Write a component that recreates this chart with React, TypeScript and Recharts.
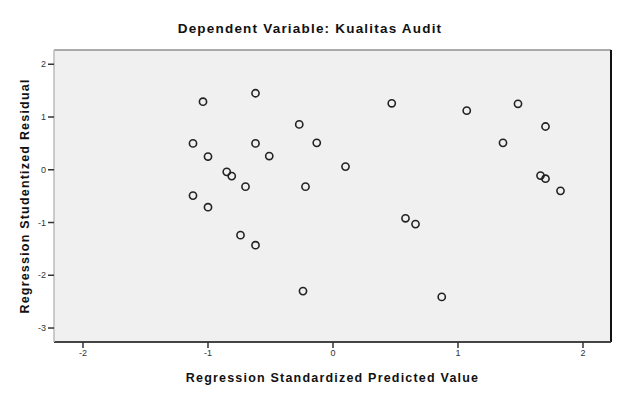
import { ScatterChart, Scatter, XAxis, YAxis, CartesianGrid, ReferenceLine, Label } from 'recharts'

// Regression Standardized Predicted Value
const predicted = [
  -1.04, -0.62, -0.27, -1.12, -0.62, -0.13, -1.0, -0.51, 0.1, -0.85, -0.81, -0.7, -0.22, -1.12, -1.0,
  -0.74, -0.62, -0.24, 0.47, 1.07, 1.48, 1.7, 1.36, 1.66, 1.7, 1.82, 0.58, 0.66, 0.87,
]

// Regression Studentized Residual
const residual = [
  1.29, 1.45, 0.86, 0.5, 0.5, 0.51, 0.25, 0.26, 0.06, -0.04, -0.12, -0.32, -0.32, -0.49, -0.71,
  -1.24, -1.43, -2.3, 1.26, 1.12, 1.25, 0.82, 0.51, -0.11, -0.17, -0.4, -0.92, -1.03, -2.41,
]

const xTicks = [-2, -1, 0, 1, 2]
const yTicks = [2, 1, 0, -1, -2, -3]

const X_DOMAIN: [number, number] = [-2.232, 2.224]
const Y_DOMAIN: [number, number] = [-3.265, 2.27]

const points = predicted.map((x, i) => ({ x, y: residual[i] }))

const FONT = '"Liberation Sans", Arial, sans-serif'
const tickStyle = { fontSize: 9, fill: '#333', fontFamily: FONT }
const axisTitleStyle = {
  fontSize: 12.5,
  fontWeight: 700,
  fill: '#111',
  fontFamily: FONT,
  letterSpacing: 1.2,
}

// open circle marker like SPSS
const OpenCircle = (props: any) => {
  const { cx, cy } = props
  if (cx == null || cy == null) return null
  return <circle cx={cx} cy={cy} r={3.6} fill="none" stroke="#222" strokeWidth={1.6} />
}

export default function App() {
  return (
    <div style={{ position: 'absolute', left: 0, top: 0, width: 624, height: 396, background: '#fff' }}>
      <div
        style={{
          position: 'absolute',
          top: 21,
          left: 0,
          width: 620,
          textAlign: 'center',
          fontFamily: FONT,
          fontWeight: 700,
          fontSize: 13.5,
          letterSpacing: 1.2,
          color: '#111',
        }}
      >
        Dependent Variable: Kualitas Audit
      </div>
      <ScatterChart width={624} height={396} margin={{ top: 50, right: 13, bottom: 0, left: 0 }}>
        <CartesianGrid horizontal={false} vertical={false} fill="#f0f0f0" fillOpacity={1} stroke="none" />
        <XAxis
          type="number"
          dataKey="x"
          domain={X_DOMAIN}
          ticks={xTicks}
          allowDataOverflow
          height={54}
          tickSize={6}
          axisLine={{ stroke: '#444', strokeWidth: 2 }}
          tickLine={{ stroke: '#333', strokeWidth: 1.5 }}
          tick={tickStyle}
          tickFormatter={(v: number) => String(v)}
        >
          <Label
            value="Regression Standardized Predicted Value"
            position="insideBottom"
            offset={14}
            style={axisTitleStyle}
          />
        </XAxis>
        <YAxis
          type="number"
          dataKey="y"
          domain={Y_DOMAIN}
          ticks={yTicks}
          allowDataOverflow
          width={54}
          tickSize={6}
          axisLine={{ stroke: '#bbb', strokeWidth: 1.5 }}
          tickLine={{ stroke: '#333', strokeWidth: 1.5 }}
          tick={tickStyle}
          tickFormatter={(v: number) => String(v)}
        >
          <Label
            value="Regression Studentized Residual"
            angle={-90}
            position="insideLeft"
            offset={25}
            style={{ ...axisTitleStyle, textAnchor: 'middle' }}
          />
        </YAxis>
        <ReferenceLine y={Y_DOMAIN[1]} stroke="#aaa" strokeWidth={2} />
        <ReferenceLine x={X_DOMAIN[1]} stroke="#111" strokeWidth={2} />
        <Scatter data={points} shape={OpenCircle} isAnimationActive={false} />
      </ScatterChart>
    </div>
  )
}
